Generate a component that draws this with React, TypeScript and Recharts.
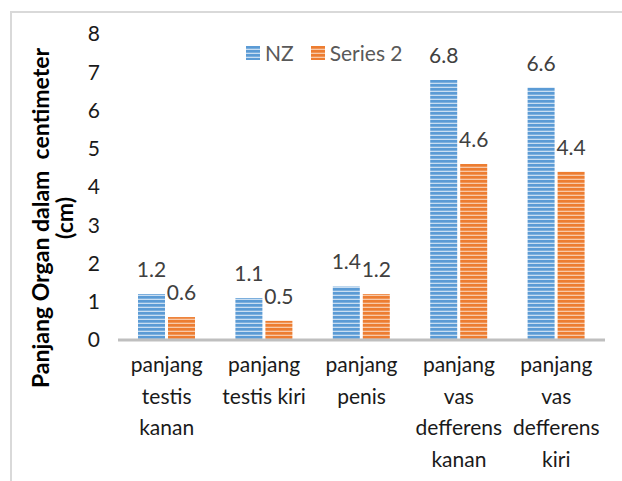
import { Bar, BarChart, LabelList, Legend, XAxis, YAxis } from 'recharts'

const categories = [
  'panjang testis kanan',
  'panjang testis kiri',
  'panjang penis',
  'panjang vas defferens kanan',
  'panjang vas defferens kiri',
]
const nzValues = [1.2, 1.1, 1.4, 6.8, 6.6]
const series2Values = [0.6, 0.5, 1.2, 4.6, 4.4]
const yTicks = [0, 1, 2, 3, 4, 5, 6, 7, 8]
const seriesNames = ['NZ', 'Series 2']
const yTitle = ['Panjang Organ dalam  centimeter', '(cm)']

const FONT = 'Lato, "Open Sans", sans-serif'

const data = categories.map((name, i) => ({
  name,
  nz: nzValues[i],
  s2: series2Values[i],
}))

// rough width of a word, narrow letters count half
const NARROW = 'iltjrf '
function roughWidth(s: string) {
  let w = 0
  for (const c of s) w += NARROW.includes(c) ? 0.5 : 1
  return w
}

// excel wraps the category text by words
function wrapWords(text: string, maxWidth = 9) {
  const lines: string[] = []
  let cur = ''
  for (const w of text.split(' ')) {
    const next = cur ? cur + ' ' + w : w
    if (roughWidth(next) > maxWidth && cur) {
      lines.push(cur)
      cur = w
    } else {
      cur = next
    }
  }
  if (cur) lines.push(cur)
  return lines
}

function CategoryTick({ x, y, payload }: any) {
  const lines = wrapWords(payload.value)
  return (
    <text x={x} y={y} textAnchor="middle" fill="#1a1a1a" fontSize={21} fontFamily={FONT}>
      {lines.map((line, i) => (
        <tspan key={i} x={x} dy={i === 0 ? 32 : 31.7}>
          {line}
        </tspan>
      ))}
    </text>
  )
}

function YTitle({ viewBox }: any) {
  const cy = viewBox.y + viewBox.height / 2 + 31
  return (
    <g>
      <text
        x={40}
        y={cy}
        transform={`rotate(-90 40 ${cy})`}
        textAnchor="middle"
        dominantBaseline="central"
        fontSize={23}
        fontWeight="bold"
        fontFamily={FONT}
        fill="#000"
        style={{ whiteSpace: 'pre' }}
      >
        {yTitle[0]}
      </text>
      <text
        x={64}
        y={cy}
        transform={`rotate(-90 64 ${cy})`}
        textAnchor="middle"
        dominantBaseline="central"
        fontSize={23}
        fontWeight="bold"
        fontFamily={FONT}
        fill="#000"
      >
        {yTitle[1]}
      </text>
    </g>
  )
}

function LegendBox() {
  const fills = ['url(#nzStripes)', 'url(#s2Stripes)']
  return (
    <div style={{ display: 'flex', alignItems: 'center', fontFamily: FONT, fontSize: 21, color: '#595959' }}>
      {seriesNames.map((n, i) => (
        <div key={n} style={{ display: 'flex', alignItems: 'center', marginRight: i === 0 ? 17 : 0 }}>
          <svg width={14} height={14} style={{ marginRight: 5 }}>
            <rect width={14} height={14} fill={fills[i]} />
          </svg>
          <span>{n}</span>
        </div>
      ))}
    </div>
  )
}

export default function App() {
  return (
    <div style={{ position: 'absolute', left: 0, top: 0, width: 622, height: 481, background: '#fff' }}>
      <div
        style={{
          position: 'absolute',
          left: 10,
          top: 11,
          width: 620,
          height: 480,
          borderLeft: '2px solid #d9d9d9',
          borderTop: '2px solid #d9d9d9',
        }}
      />
      <BarChart
        width={622}
        height={481}
        data={data}
        margin={{ top: 34, right: 17, bottom: 0, left: 0 }}
        barGap={3}
        barSize={27}
        style={{ position: 'absolute', left: 0, top: 0 }}
      >
        <defs>
          <pattern id="nzStripes" patternUnits="userSpaceOnUse" width={4} height={4}>
            <rect width={4} height={4} fill="#c9def2" />
            <rect width={4} height={2.7} fill="#5b9bd5" />
          </pattern>
          <pattern id="s2Stripes" patternUnits="userSpaceOnUse" width={4} height={4}>
            <rect width={4} height={4} fill="#f8c9a8" />
            <rect width={4} height={2.7} fill="#ed7d31" />
          </pattern>
        </defs>
        <XAxis
          dataKey="name"
          height={141}
          tickLine={false}
          tickSize={0}
          tickMargin={0}
          axisLine={{ stroke: '#bfbfbf', strokeWidth: 3 }}
          tick={<CategoryTick />}
          interval={0}
        />
        <YAxis
          width={118}
          domain={[0, 8]}
          ticks={yTicks}
          axisLine={false}
          tickLine={false}
          tickSize={0}
          tickMargin={18}
          tick={{ fill: '#1a1a1a', fontSize: 21, fontFamily: FONT }}
          label={<YTitle />}
        />
        <Legend
          verticalAlign="middle"
          align="center"
          wrapperStyle={{ top: 40, left: 246, width: 'auto', height: 'auto' }}
          content={<LegendBox />}
        />
        <Bar dataKey="nz" name={seriesNames[0]} fill="url(#nzStripes)" isAnimationActive={false}>
          <LabelList dataKey="nz" position="top" offset={17} fill="#404040" fontSize={21} fontFamily={FONT} />
        </Bar>
        <Bar dataKey="s2" name={seriesNames[1]} fill="url(#s2Stripes)" isAnimationActive={false}>
          <LabelList dataKey="s2" position="top" offset={17} fill="#404040" fontSize={21} fontFamily={FONT} />
        </Bar>
      </BarChart>
    </div>
  )
}
